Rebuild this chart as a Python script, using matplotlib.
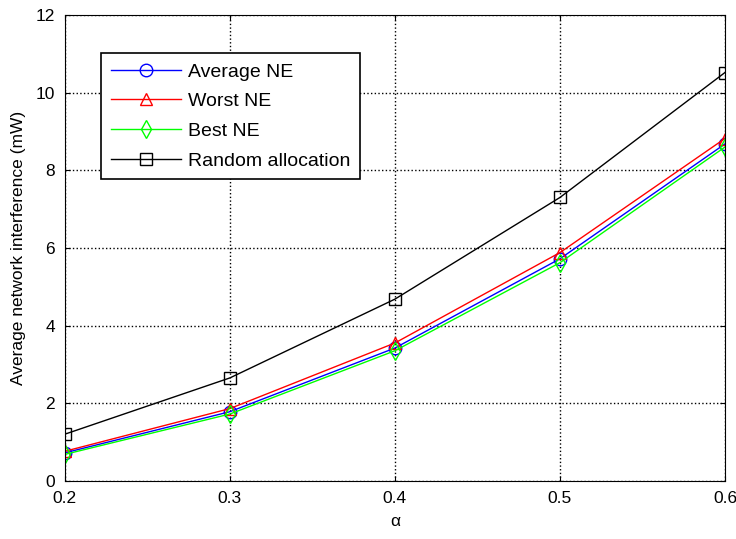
import matplotlib
matplotlib.use('Agg')
import matplotlib.pyplot as plt

plt.rcParams['font.family'] = ['Liberation Sans', 'DejaVu Sans']

alpha = [0.2, 0.3, 0.4, 0.5, 0.6]
average_ne = [0.72, 1.78, 3.42, 5.72, 8.68]
worst_ne = [0.76, 1.86, 3.55, 5.88, 8.82]
best_ne = [0.68, 1.72, 3.35, 5.62, 8.6]
random_alloc = [1.2, 2.65, 4.68, 7.3, 10.52]

fig = plt.figure(figsize=(7.36, 5.39), dpi=100)
ax = fig.add_axes([0.088, 0.108, 0.897, 0.864])

mk = dict(markersize=9, markerfacecolor='none', linewidth=1.0, markeredgewidth=1.0)
ax.plot(alpha, average_ne, color='b', marker='o', label='Average NE', **mk)
ax.plot(alpha, worst_ne, color='r', marker='^', label='Worst NE', **mk)
ax.plot(alpha, best_ne, color='#00ff00', marker='d', label='Best NE', **mk)
ax.plot(alpha, random_alloc, color='k', marker='s', label='Random allocation', **mk)

ax.set_xlim(0.2, 0.6)
ax.set_ylim(0, 12)
ax.set_xticks([0.2, 0.3, 0.4, 0.5, 0.6])
ax.set_yticks([0, 2, 4, 6, 8, 10, 12])
ax.grid(True, color='k', linestyle=':', linewidth=1.0)
ax.tick_params(direction='in', top=True, right=True, labelsize=12.5, pad=7)
ax.set_xlabel('\u03b1', fontsize=12.5, labelpad=6)
ax.set_ylabel('Average network interference (mW)', fontsize=12.5, labelpad=7)

leg = ax.legend(loc='upper left', bbox_to_anchor=(0.055, 0.918), fontsize=14,
                fancybox=False, edgecolor='k', framealpha=1, handlelength=3.6,
                handletextpad=0.35, borderpad=0.5, labelspacing=0.62,
                borderaxespad=0)
leg.get_frame().set_linewidth(1.2)

plt.savefig('out.png')
